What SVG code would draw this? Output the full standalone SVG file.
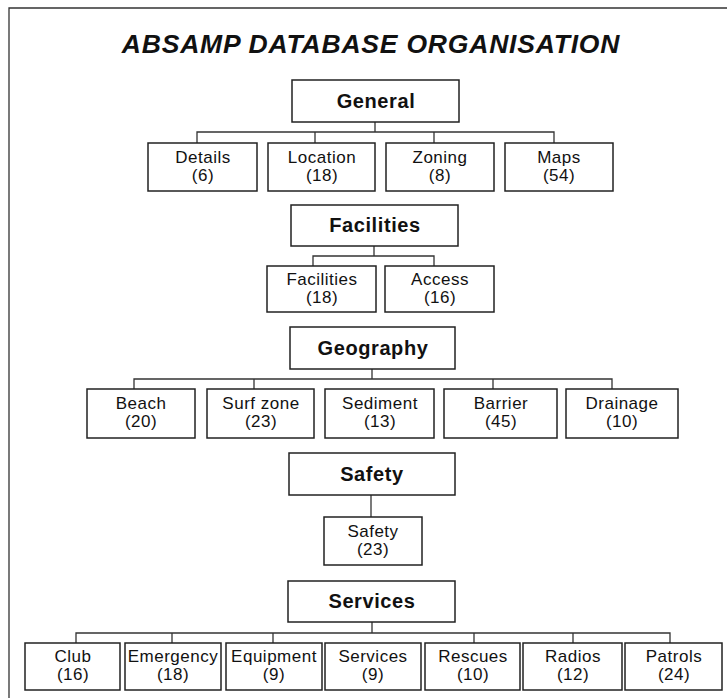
<svg xmlns="http://www.w3.org/2000/svg" width="727" height="698" viewBox="0 0 727 698">
<style>
.box{fill:#fff;stroke:#222;stroke-width:1.5}
.hd{font-family:"Liberation Sans",Arial,sans-serif;font-weight:bold;font-size:20px;letter-spacing:0.6px;fill:#111;text-anchor:middle}
.ch{font-family:"Liberation Sans",Arial,sans-serif;font-size:17px;letter-spacing:0.5px;fill:#111;text-anchor:middle}
.title{font-family:"Liberation Sans",Arial,sans-serif;font-weight:bold;font-style:italic;font-size:26.5px;letter-spacing:0.8px;fill:#111;text-anchor:middle}
.ln{fill:none;stroke:#333;stroke-width:1.3}
</style>
<rect width="727" height="698" fill="#fff"/>
<g id="frame"><path class="ln" d="M9 698 V8 H727"/></g>
<text class="title" x="371" y="53">ABSAMP DATABASE ORGANISATION</text>
<g id="connectors">
<path class="ln" d="M375 122 V132 M197 143 V132 H554 V143 M315 132 V143 M434 132 V143"/>
<path class="ln" d="M374 246 V256 M313 266 V256 H434 V266"/>
<path class="ln" d="M372 369 V379 M134 389 V379 H612 V389 M254 379 V389 M493 379 V389"/>
<path class="ln" d="M371 495 V517"/>
<path class="ln" d="M372 622 V633 M76 643 V633 H670 V643 M172 633 V643 M273 633 V643 M474 633 V643 M573 633 V643"/>
</g>
<g id="general"><rect class="box" x="292" y="80" width="167" height="42"/><text class="hd" x="376" y="108">General</text></g>
<g id="details"><rect class="box" x="148" y="143" width="109" height="48"/><text class="ch" x="203" y="163">Details</text><text class="ch" x="203" y="181">(6)</text></g>
<g id="location"><rect class="box" x="268" y="143" width="107" height="48"/><text class="ch" x="322" y="163">Location</text><text class="ch" x="322" y="181">(18)</text></g>
<g id="zoning"><rect class="box" x="386" y="143" width="108" height="48"/><text class="ch" x="440" y="163">Zoning</text><text class="ch" x="440" y="181">(8)</text></g>
<g id="maps"><rect class="box" x="505" y="143" width="108" height="48"/><text class="ch" x="559" y="163">Maps</text><text class="ch" x="559" y="181">(54)</text></g>
<g id="facilities-h"><rect class="box" x="291" y="205" width="167" height="41"/><text class="hd" x="375" y="232">Facilities</text></g>
<g id="facilities"><rect class="box" x="267" y="266" width="109" height="46"/><text class="ch" x="322" y="285">Facilities</text><text class="ch" x="322" y="303">(18)</text></g>
<g id="access"><rect class="box" x="385" y="266" width="109" height="46"/><text class="ch" x="440" y="285">Access</text><text class="ch" x="440" y="303">(16)</text></g>
<g id="geography"><rect class="box" x="290" y="327" width="165" height="42"/><text class="hd" x="373" y="355">Geography</text></g>
<g id="beach"><rect class="box" x="87" y="389" width="108" height="49"/><text class="ch" x="141" y="409">Beach</text><text class="ch" x="141" y="427">(20)</text></g>
<g id="surf"><rect class="box" x="207" y="389" width="107" height="49"/><text class="ch" x="261" y="409">Surf zone</text><text class="ch" x="261" y="427">(23)</text></g>
<g id="sediment"><rect class="box" x="325" y="389" width="109" height="49"/><text class="ch" x="380" y="409">Sediment</text><text class="ch" x="380" y="427">(13)</text></g>
<g id="barrier"><rect class="box" x="444" y="389" width="113" height="49"/><text class="ch" x="501" y="409">Barrier</text><text class="ch" x="501" y="427">(45)</text></g>
<g id="drainage"><rect class="box" x="566" y="389" width="112" height="49"/><text class="ch" x="622" y="409">Drainage</text><text class="ch" x="622" y="427">(10)</text></g>
<g id="safety-h"><rect class="box" x="289" y="453" width="166" height="42"/><text class="hd" x="372" y="481">Safety</text></g>
<g id="safety"><rect class="box" x="324" y="517" width="98" height="48"/><text class="ch" x="373" y="537">Safety</text><text class="ch" x="373" y="555">(23)</text></g>
<g id="services-h"><rect class="box" x="288" y="581" width="167" height="41"/><text class="hd" x="372" y="608">Services</text></g>
<g id="club"><rect class="box" x="25" y="643" width="95" height="47"/><text class="ch" x="73" y="662">Club</text><text class="ch" x="73" y="680">(16)</text></g>
<g id="emergency"><rect class="box" x="125" y="643" width="96" height="47"/><text class="ch" x="173" y="662">Emergency</text><text class="ch" x="173" y="680">(18)</text></g>
<g id="equipment"><rect class="box" x="226" y="643" width="96" height="47"/><text class="ch" x="274" y="662">Equipment</text><text class="ch" x="274" y="680">(9)</text></g>
<g id="services"><rect class="box" x="325" y="643" width="96" height="47"/><text class="ch" x="373" y="662">Services</text><text class="ch" x="373" y="680">(9)</text></g>
<g id="rescues"><rect class="box" x="425" y="643" width="95" height="47"/><text class="ch" x="473" y="662">Rescues</text><text class="ch" x="473" y="680">(10)</text></g>
<g id="radios"><rect class="box" x="523" y="643" width="99" height="47"/><text class="ch" x="573" y="662">Radios</text><text class="ch" x="573" y="680">(12)</text></g>
<g id="patrols"><rect class="box" x="625" y="643" width="97" height="47"/><text class="ch" x="674" y="662">Patrols</text><text class="ch" x="674" y="680">(24)</text></g>
</svg>
